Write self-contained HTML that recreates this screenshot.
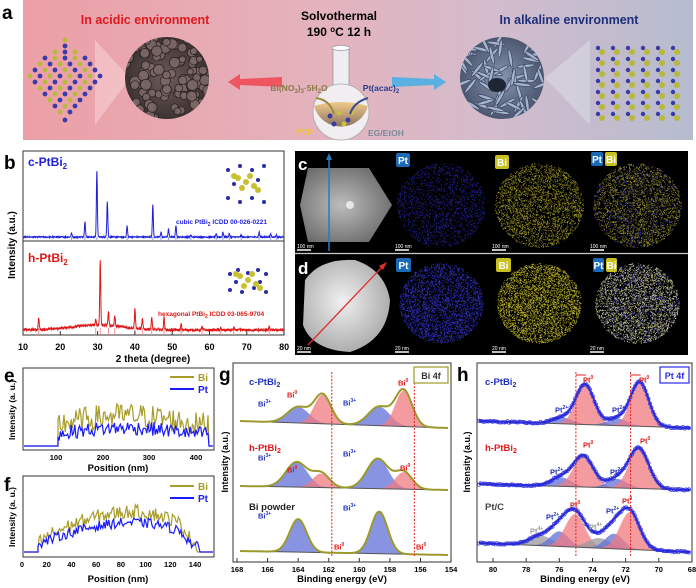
<!DOCTYPE html>
<html><head><meta charset="utf-8"><style>
html,body{margin:0;padding:0;background:#fff;}
svg{display:block;font-family:"Liberation Sans",Arial,sans-serif;}
.b{font-weight:bold;}
</style></head><body>
<svg id="s" width="696" height="588" viewBox="0 0 696 588" xmlns="http://www.w3.org/2000/svg">
<defs>
<linearGradient id="ga" x1="0" x2="1" y1="0" y2="0">
<stop offset="0" stop-color="#ec9fa6"/><stop offset="0.45" stop-color="#e4b3bd"/><stop offset="0.7" stop-color="#d3bccd"/><stop offset="1" stop-color="#b6bccf"/></linearGradient>
<radialGradient id="semL" cx="0.5" cy="0.5" r="0.5"><stop offset="0" stop-color="#6e5d5c"/><stop offset="1" stop-color="#3d3232"/></radialGradient>
<radialGradient id="semR" cx="0.5" cy="0.5" r="0.5"><stop offset="0" stop-color="#8594ad"/><stop offset="1" stop-color="#4d5870"/></radialGradient>
<radialGradient id="haadf" cx="0.45" cy="0.5" r="0.6"><stop offset="0" stop-color="#bdbdbd"/><stop offset="1" stop-color="#6a6a6a"/></radialGradient>
<radialGradient id="haadf2" cx="0.45" cy="0.45" r="0.6"><stop offset="0" stop-color="#f0f0f0"/><stop offset="1" stop-color="#a8a8a8"/></radialGradient>
<linearGradient id="liq" x1="0" x2="0" y1="0" y2="1"><stop offset="0" stop-color="#f2c98a"/><stop offset="1" stop-color="#8b7560"/></linearGradient>
<clipPath id="cL"><ellipse cx="167" cy="78" rx="42" ry="41"/></clipPath>
<clipPath id="cR"><ellipse cx="502" cy="78" rx="42" ry="41"/></clipPath>
</defs>
<rect x="23" y="0" width="670" height="140" fill="url(#ga)"/>
<polygon points="95,40 130,78 95,125" fill="#f6d0d3" opacity="0.6"/>
<polygon points="590,40 545,78 590,125" fill="#d8dbe6" opacity="0.6"/>
<text x="2" y="19" class="b" font-size="19">a</text>
<text x="145" y="24" class="b" font-size="12.5" fill="#e0191e" text-anchor="middle">In acidic environment</text>
<text x="569" y="24" class="b" font-size="12.5" fill="#1e2f7a" text-anchor="middle">In alkaline environment</text>
<text x="339" y="20" class="b" font-size="12" text-anchor="middle">Solvothermal</text>
<text x="339" y="36" class="b" font-size="12" text-anchor="middle">190 <tspan font-size="8" dy="-4">o</tspan><tspan dy="4">C 12 h</tspan></text>
<ellipse cx="167" cy="78" rx="42" ry="41" fill="url(#semL)"/>
<g id="grainsL" clip-path="url(#cL)"></g>
<ellipse cx="502" cy="78" rx="42" ry="41" fill="url(#semR)"/>
<g id="grainsR" clip-path="url(#cR)"></g>
<polygon points="228,82 240,74 240,79 282,77 282,87 240,85 240,90" fill="#ee5560"/>
<polygon points="446,82 434,74 434,79 392,77 392,87 434,85 434,90" fill="#5ab0e0"/>
<rect x="333" y="48" width="16" height="45" fill="#eeeef2" stroke="#999" stroke-width="0.8"/>
<ellipse cx="341" cy="48" rx="9" ry="2.5" fill="#fff" stroke="#999" stroke-width="0.8"/>
<circle cx="341" cy="112" r="28" fill="#f0eef0" stroke="#aaa" stroke-width="0.8"/>
<path d="M314,106 Q341,98 368,106 A28,28 0 0 1 314,106 Z" fill="url(#liq)"/>
<circle cx="330" cy="116" r="2.5" fill="#3a3aa0"/><circle cx="339" cy="113" r="2.5" fill="#c8c040"/><circle cx="348" cy="120" r="2.5" fill="#3a3aa0"/><circle cx="352" cy="112" r="2.5" fill="#c8c040"/><circle cx="344" cy="124" r="2.5" fill="#c8c040"/><circle cx="334" cy="124" r="2.5" fill="#3a3aa0"/>
<text x="299" y="91" class="b" font-size="8.5" fill="#8c7a4a" text-anchor="middle">Bi(NO<tspan font-size="6" dy="2">3</tspan><tspan dy="-2">)</tspan><tspan font-size="6" dy="2">3</tspan><tspan dy="-2">·5H</tspan><tspan font-size="6" dy="2">2</tspan><tspan dy="-2">O</tspan></text>
<text x="381" y="91" class="b" font-size="8.5" fill="#2a3a8a" text-anchor="middle">Pt(acac)<tspan font-size="6" dy="2">2</tspan></text>
<text x="296" y="135" class="b" font-size="8.5" fill="#f0c040">PVP</text>
<text x="368" y="136" class="b" font-size="8.5" fill="#7a8a9a">EG/EtOH</text>
<path d="M316,98 Q330,100 334,114" fill="none" stroke="#9a8a40" stroke-width="2"/>
<path d="M368,98 Q354,102 350,114" fill="none" stroke="#3a4a8a" stroke-width="2"/>
<g id="latL"></g><g id="latR"></g>

<text x="4" y="169" class="b" font-size="19">b</text>
<rect x="23" y="151" width="261" height="184" fill="none" stroke="#333" stroke-width="1"/>
<line x1="23" y1="241" x2="284" y2="241" stroke="#333" stroke-width="1"/>
<g id="xrd"></g>
<text x="28" y="166" class="b" font-size="12" fill="#2020e0">c-PtBi<tspan font-size="8" dy="3">2</tspan></text>
<text x="28" y="262" class="b" font-size="12" fill="#e01818">h-PtBi<tspan font-size="8" dy="3">2</tspan></text>
<text x="176" y="224" class="b" font-size="6.5" fill="#2020e0">cubic PtBi<tspan font-size="5" dy="2">2</tspan><tspan dy="-2"> ICDD 00-026-0221</tspan></text>
<text x="158" y="316" class="b" font-size="6.5" fill="#e01818">hexagonal PtBi<tspan font-size="5" dy="2">2</tspan><tspan dy="-2"> ICDD 03-065-9704</tspan></text>
<g id="crys"></g>
<g class="b" font-size="9" text-anchor="middle" id="bt"></g>
<text x="153" y="362" class="b" font-size="10" text-anchor="middle">2 theta (degree)</text>
<text transform="translate(15,245) rotate(-90)" class="b" font-size="10" text-anchor="middle">Intensity (a.u.)</text>

<rect x="295" y="151" width="393" height="204" fill="#000"/>
<line x1="295" y1="253.5" x2="688" y2="253.5" stroke="#ccc" stroke-width="1.2"/>
<polygon points="308,168 369,168 392,205 369,242 308,242 300,205" fill="url(#haadf)"/>
<circle cx="350" cy="205" r="4" fill="#fff" opacity="0.7"/>
<line x1="329" y1="251" x2="329" y2="158" stroke="#2a7ab8" stroke-width="1.5"/>
<polygon points="329,153 326,160 332,160" fill="#2a7ab8"/>
<path d="M305,280 Q320,258 355,260 Q385,270 390,300 Q388,340 350,352 Q312,350 303,325 Z" fill="url(#haadf2)"/>
<line x1="308" y1="345" x2="384" y2="265" stroke="#e03030" stroke-width="1.3"/>
<polygon points="387,262 379,266 383,270" fill="#e03030"/>
<g id="edx"></g>
<text x="298" y="170" class="b" font-size="17" fill="#fff">c</text>
<text x="298" y="274" class="b" font-size="17" fill="#fff">d</text>
<g id="tags"></g>
<g id="sbars"></g>

<text x="4" y="382" class="b" font-size="19">e</text>
<rect x="23" y="368" width="191" height="82" fill="none" stroke="#333" stroke-width="1"/>
<g id="eL"></g>
<text x="15" y="410" transform="rotate(-90 15 410)" class="b" font-size="8.5" text-anchor="middle">Intensity (a. u.)</text>
<g class="b" font-size="7.5" text-anchor="middle"><text x="56" y="460">100</text><text x="103" y="460">200</text><text x="149" y="460">300</text><text x="196" y="460">400</text></g>
<text x="118" y="471" class="b" font-size="9.5" text-anchor="middle">Position (nm)</text>
<line x1="170" y1="377" x2="194" y2="377" stroke="#a89c2a" stroke-width="2"/><text x="198" y="381" class="b" font-size="10" fill="#a89c2a">Bi</text>
<line x1="170" y1="389" x2="194" y2="389" stroke="#1a1aff" stroke-width="2"/><text x="198" y="393" class="b" font-size="10" fill="#1a1aff">Pt</text>

<text x="4" y="491" class="b" font-size="19">f</text>
<rect x="23" y="476" width="191" height="81" fill="none" stroke="#333" stroke-width="1"/>
<g id="fL"></g>
<text x="15" y="517" transform="rotate(-90 15 517)" class="b" font-size="8.5" text-anchor="middle">Intensity (a. u.)</text>
<g class="b" font-size="7.5" text-anchor="middle" id="ft"></g>
<text x="118" y="582" class="b" font-size="9.5" text-anchor="middle">Position (nm)</text>
<line x1="170" y1="486" x2="194" y2="486" stroke="#a89c2a" stroke-width="2"/><text x="198" y="490" class="b" font-size="10" fill="#a89c2a">Bi</text>
<line x1="170" y1="498" x2="194" y2="498" stroke="#1a1aff" stroke-width="2"/><text x="198" y="502" class="b" font-size="10" fill="#1a1aff">Pt</text>

<text x="219" y="381" class="b" font-size="19">g</text>
<rect x="233" y="363" width="218" height="199" fill="none" stroke="#333" stroke-width="1"/>
<g id="gP"></g>
<rect x="414" y="367" width="34" height="16" fill="#fff" stroke="#9c9a2a" stroke-width="1.2"/>
<text x="431" y="379" class="b" font-size="9" text-anchor="middle" fill="#333">Bi 4f</text>
<text x="249" y="385" class="b" font-size="9.5" fill="#2030c0">c-PtBi<tspan font-size="7" dy="2">2</tspan></text>
<text x="249" y="451" class="b" font-size="9.5" fill="#e01818">h-PtBi<tspan font-size="7" dy="2">2</tspan></text>
<text x="249" y="510" class="b" font-size="9.5" fill="#222">Bi powder</text>
<g id="gT" class="b" font-size="7.5"></g>
<text x="228" y="462" transform="rotate(-90 228 462)" class="b" font-size="9" text-anchor="middle">Intensity (a.u.)</text>
<text x="342" y="582" class="b" font-size="9.5" text-anchor="middle">Binding energy (eV)</text>

<text x="457" y="381" class="b" font-size="19">h</text>
<rect x="477" y="363" width="215" height="199" fill="none" stroke="#333" stroke-width="1"/>
<g id="hP"></g>
<rect x="660" y="367" width="29" height="16" fill="#fff" stroke="#2a2aee" stroke-width="1.2"/>
<text x="674.5" y="379" class="b" font-size="9" text-anchor="middle" fill="#2a2aee">Pt 4f</text>
<text x="485" y="385" class="b" font-size="9.5" fill="#2030c0">c-PtBi<tspan font-size="7" dy="2">2</tspan></text>
<text x="485" y="451" class="b" font-size="9.5" fill="#e01818">h-PtBi<tspan font-size="7" dy="2">2</tspan></text>
<text x="485" y="510" class="b" font-size="9.5" fill="#444">Pt/C</text>
<g id="hT" class="b" font-size="7.5"></g>
<text x="470" y="462" transform="rotate(-90 470 462)" class="b" font-size="9" text-anchor="middle">Intensity (a.u.)</text>
<text x="585" y="582" class="b" font-size="9.5" text-anchor="middle">Binding energy (eV)</text>
</svg>
<script>
var NS="http://www.w3.org/2000/svg";
var sd=12345;function R(){sd=(sd*1103515245+12345)%2147483648;return sd/2147483648;}
function el(g,t,a){var e=document.createElementNS(NS,t);for(var k in a)e.setAttribute(k,a[k]);document.getElementById(g).appendChild(e);return e;}
function P(p){return "M"+p.map(function(q){return q[0].toFixed(1)+","+q[1].toFixed(1)}).join("L");}
function G(x,c,s){return Math.exp(-(x-c)*(x-c)/(2*s*s));}
for(var i=0;i<110;i++){el("grainsL","circle",{cx:125+R()*84,cy:37+R()*82,r:3+R()*2.5,fill:"#7a6867",stroke:"#2a2020","stroke-width":0.8,opacity:0.9});}
for(var i=0;i<70;i++){var x=460+R()*84,y=37+R()*82,a=R()*180;el("grainsR","ellipse",{cx:x,cy:y,rx:9,ry:1.6,fill:"#a5b3cc",stroke:"#3a4560","stroke-width":0.6,transform:"rotate("+a+" "+x+" "+y+")"});}
el("grainsR","ellipse",{cx:497,cy:85,rx:9,ry:7,fill:"#1e2535"});
var rows=[[40,1],[46,1],[52,3],[58,5],[64,6],[70,7],[76,8],[82,7],[88,6],[94,5],[100,4],[106,3],[112,2],[120,1]];
rows.forEach(function(r,j){for(var k=0;k<r[1];k++){var x=65-(r[1]-1)*5+k*10;el("latL","circle",{cx:x,cy:r[0],r:2.4,fill:(k+j)%2?"#3a3aa8":"#b8b83a"});}});
for(var j=0;j<7;j++)for(var k=0;k<6;k++){var x=598+k*15,y=48+j*11;el("latR","circle",{cx:x,cy:y,r:2.2,fill:"#3a3aa8"});el("latR","circle",{cx:x+4,cy:y+4,r:3,fill:"#b8b83a"});}
function xrd(base,peaks,noise,hump,col){var pts=[];for(var x=23.5;x<283.5;x+=0.25){var th=10+(x-23)/3.73;var y=base-(R()-0.5)*noise;if(hump)y-=hump*G(th,30,7);peaks.forEach(function(p){y-=p[1]*G(th,p[0],0.13);});pts.push([x,y]);}el("xrd","path",{d:P(pts),fill:"none",stroke:col,"stroke-width":1});}
var bp=[[23,4],[26.6,16],[29.8,67],[32.6,36],[37.9,11],[44.8,32],[47,5],[49,8],[51,12],[55,2],[61.8,3],[63.6,5],[65.3,3],[68.5,2],[73.3,5],[76.4,3],[77.9,2]];
var rp=[[14.2,12],[29.5,5],[30.7,65],[32.9,14],[34.6,11],[40,20],[42,10],[44.5,12],[47.8,13],[52.4,6],[58,3],[63,2],[66.5,2],[76,3]];
bp.forEach(function(p){var x=23+(p[0]-10)*3.73;el("xrd","line",{x1:x,x2:x,y1:237,y2:241,stroke:"#8aa0f0","stroke-width":1});});
rp.forEach(function(p){var x=23+(p[0]-10)*3.73;el("xrd","line",{x1:x,x2:x,y1:328,y2:335,stroke:"#f09090","stroke-width":1});});
xrd(237,bp,1.2,0,"#2020e0");xrd(330,rp,2.5,5,"#e01818");
for(var t=10;t<=80;t+=10){var x=23+(t-10)*3.73;el("xrd","line",{x1:x,x2:x,y1:335,y2:331,stroke:"#333"});var e=el("bt","text",{x:x,y:350});e.textContent=t;}
function crys(cx,cy,hex){var s=hex?[[-18,-8],[-10,-12],[0,-9],[10,-12],[18,-8],[-18,8],[-6,10],[6,6],[18,10],[-12,0],[12,0]]:[[-18,-14],[-6,-18],[6,-14],[18,-18],[-18,14],[-6,18],[6,14],[18,18],[-12,0],[12,-4]];s.forEach(function(p){el("crys","circle",{cx:cx+p[0],cy:cy+p[1],r:2,fill:"#2a2aa8"});});[[-8,-6],[4,-8],[-4,4],[8,2],[0,-2],[12,6],[-12,-8]].forEach(function(p){el("crys","circle",{cx:cx+p[0],cy:cy+p[1],r:3,fill:"#c8c030"});});}
crys(246,184,0);crys(248,282,1);
function dots(cx,cy,r,n,cols){for(var i=0;i<n;i++){var a=R()*6.283,d=Math.sqrt(R())*r;var x=cx+Math.cos(a)*d*1.05,y=cy+Math.sin(a)*d;el("edx","rect",{x:x.toFixed(1),y:y.toFixed(1),width:0.9,height:0.9,fill:cols[Math.floor(R()*cols.length)]});}}
dots(441,205,42,1800,["#1e1e8a","#14146a","#2a2aa8"]);dots(539,205,42,2600,["#8a8418","#6a6410","#b0a828"]);dots(637,205,42,2800,["#8a8418","#2a2a98","#a8a030","#6a6420"]);
dots(441,303,40,3000,["#2a2ab0","#1c1c88","#3838c8"]);dots(539,303,40,3400,["#a8a018","#807a10","#c8c030"]);dots(637,303,40,3400,["#b8b890","#8a8a40","#3a3aa8","#d0d0b0"]);
function tag(x,y,t,c,w){el("tags","rect",{x:x,y:y,width:w,height:14,rx:2,fill:c});var e=el("tags","text",{x:x+w/2,y:y+11,"text-anchor":"middle","font-size":10,"font-weight":"bold",fill:"#fff"});e.textContent=t;}
tag(396,153,"Pt","#1a6ab8",14);tag(495,155,"Bi","#c8c020",14);tag(591,152,"Pt","#1a6ab8",12);tag(605,152,"Bi","#c8c020",12);
tag(396,258,"Pt","#1a6ab8",15);tag(496,258,"Bi","#c8c020",15);tag(593,258,"Pt","#1a6ab8",11);tag(606,258,"Bi","#c8c020",11);
[[297,250,"100 nm"],[395,250,"100 nm"],[492,250,"100 nm"],[590,250,"100 nm"],[297,352,"20 nm"],[395,352,"20 nm"],[492,352,"20 nm"],[590,352,"20 nm"]].forEach(function(s){el("sbars","line",{x1:s[0],x2:s[0]+14,y1:s[1],y2:s[1],stroke:"#fff","stroke-width":1.5});var e=el("sbars","text",{x:s[0],y:s[1]-2,"font-size":5,fill:"#fff"});e.textContent=s[2];});
function prof(g,xa,xb,base,amp,noise,col){var pts=[[24,base],[xa,base]];for(var x=xa;x<=xb;x+=1.2){var u=(x-xa)/(xb-xa);var env=Math.sin(Math.PI*Math.min(1,u*1.1))*0.5+0.5;pts.push([x,base-amp*env-(R())*noise]);}pts.push([xb+1,base]);pts.push([213,base]);el(g,"path",{d:P(pts),fill:"none",stroke:col,"stroke-width":1.2});}
prof("eL",58,208,446,18,25,"#a89c2a");prof("eL",58,208,446,11,14,"#1a1aff");
function prof2(g,base,amp,noise,col){var pts=[[24,base],[38,base]];for(var x=38;x<=198;x+=1.2){var u=(x-38)/160;var env=Math.pow(Math.sin(Math.PI*u),0.6)*(0.6+0.5*u);if(u>0.9)env*=(1-u)*10;pts.push([x,base-amp*env-R()*noise]);}pts.push([200,base]);pts.push([213,base]);el(g,"path",{d:P(pts),fill:"none",stroke:col,"stroke-width":1.2});}
prof2("fL",552,38,14,"#a89c2a");prof2("fL",552,28,10,"#1a1aff");
for(var t=0;t<=140;t+=20){var x=22+t*1.236;var e=el("ft","text",{x:x,y:567});e.textContent=t;}
function xps(g,X,stk){var bgL=stk.bg[0],bgR=stk.bg[1];function bg(x){return bgL+(bgR-bgL)*(x-stk.x0)/(stk.x1-stk.x0);}
var env=[];var comps=stk.c.map(function(){return []});
for(var x=stk.x0;x<=stk.x1;x+=0.5){var ev=X(x);var y=bg(x);var s=0;stk.c.forEach(function(c,i){var v=c[1]*G(ev,c[0],c[3]||stk.w);comps[i].push([x,bg(x)-v]);s+=v;});env.push([x,y-s]);}
stk.c.forEach(function(c,i){var p=comps[i];var d=P(p)+"L"+p[p.length-1][0]+","+bg(stk.x1)+"L"+p[0][0]+","+bg(stk.x0)+"Z";el(g,"path",{d:d,fill:c[2],opacity:0.75});});
el(g,"line",{x1:stk.x0,y1:bgL,x2:stk.x1,y2:bgR,stroke:"#555","stroke-width":1});
if(stk.dots){for(var i=0;i<env.length;i+=3){el(g,"circle",{cx:env[i][0],cy:env[i][1]-(R()-0.5)*1.5,r:1.6,fill:"none",stroke:stk.dots,"stroke-width":0.7});}}
el(g,"path",{d:P(env),fill:"none",stroke:stk.col,"stroke-width":2});}
var Xg=function(x){return 168-(x-237)/15.29;},Xh=function(x){return 80-(x-493)/16.58;};
var blue="#6070d8",red="#f07a80",gray="#9a9a9a";
xps("gP",Xg,{x0:240,x1:448,bg:[421,428],w:0.55,col:"#9c9a2a",c:[[164.0,16,blue,0.7],[162.4,29,red],[158.7,19,blue,0.7],[157.1,36,red]]});
xps("gP",Xg,{x0:240,x1:448,bg:[486,490],w:0.55,col:"#9c9a2a",c:[[164.1,25,blue,0.7],[162.5,14,red],[158.8,30,blue,0.7],[157.1,17,red]]});
xps("gP",Xg,{x0:240,x1:448,bg:[551,555],w:0.55,col:"#9c9a2a",c:[[164.0,33,blue,0.55],[158.7,42,blue,0.55]]});
[[161.8],[156.4]].forEach(function(v){var x=237+(168-v[0])*15.29;el("gP","line",{x1:x,x2:x,y1:372,y2:556,stroke:"#e02020","stroke-width":1,"stroke-dasharray":"2,1.5"});});
for(var t=168;t>=154;t-=2){var x=237+(168-t)*15.29;el("gP","line",{x1:x,x2:x,y1:562,y2:558,stroke:"#333"});var e=el("gT","text",{x:x,y:572,"text-anchor":"middle"});e.textContent=t;}
xps("hP",Xh,{x0:479,x1:690,bg:[421,428],w:0.55,col:"#2a2ad8",dots:"#3a3ae0",c:[[75.8,6,blue,0.6],[74.45,40,red],[72.5,7,blue,0.6],[71.15,44,red]]});
xps("hP",Xh,{x0:479,x1:690,bg:[484,490],w:0.6,col:"#2a2ad8",dots:"#3a3ae0",c:[[75.9,9,blue,0.6],[74.55,31,red],[72.5,9,blue,0.6],[71.2,40,red]]});
xps("hP",Xh,{x0:479,x1:690,bg:[543,552],w:0.6,col:"#2a2ad8",dots:"#3a3ae0",c:[[77.1,10,gray,0.7],[76.0,15,blue,0.55],[75.05,33,red],[73.6,10,gray,0.7],[72.7,15,blue,0.55],[71.75,37,red]]});
[75.0,71.7].forEach(function(v){var x=493+(80-v)*16.58;el("hP","line",{x1:x,x2:x,y1:372,y2:556,stroke:"#e02020","stroke-width":1,"stroke-dasharray":"2,1.5"});el("hP","line",{x1:x,x2:x+10,y1:375,y2:375,stroke:"#e02020","stroke-width":1});});
for(var t=80;t>=68;t-=2){var x=493+(80-t)*16.58;el("hP","line",{x1:x,x2:x,y1:562,y2:558,stroke:"#333"});var e=el("hT","text",{x:x,y:572,"text-anchor":"middle"});e.textContent=t;}
</script>
<div style="position:absolute;left:0;top:0;width:696px;height:588px;pointer-events:none;font-family:'Liberation Sans',sans-serif;font-weight:bold;font-size:7.5px;">
<span style="position:absolute;left:258px;top:399px;color:#2030c0">Bi<sup style="font-size:5px">3+</sup></span>
<span style="position:absolute;left:287px;top:390px;color:#e01818">Bi<sup style="font-size:5px">0</sup></span>
<span style="position:absolute;left:343px;top:398px;color:#2030c0">Bi<sup style="font-size:5px">3+</sup></span>
<span style="position:absolute;left:398px;top:378px;color:#e01818">Bi<sup style="font-size:5px">0</sup></span>
<span style="position:absolute;left:258px;top:453px;color:#2030c0">Bi<sup style="font-size:5px">3+</sup></span>
<span style="position:absolute;left:287px;top:465px;color:#e01818">Bi<sup style="font-size:5px">0</sup></span>
<span style="position:absolute;left:343px;top:449px;color:#2030c0">Bi<sup style="font-size:5px">3+</sup></span>
<span style="position:absolute;left:400px;top:463px;color:#e01818">Bi<sup style="font-size:5px">0</sup></span>
<span style="position:absolute;left:258px;top:511px;color:#2030c0">Bi<sup style="font-size:5px">3+</sup></span>
<span style="position:absolute;left:343px;top:503px;color:#2030c0">Bi<sup style="font-size:5px">3+</sup></span>
<span style="position:absolute;left:334px;top:542px;color:#e01818">Bi<sup style="font-size:5px">0</sup></span>
<span style="position:absolute;left:416px;top:542px;color:#e01818">Bi<sup style="font-size:5px">0</sup></span>
<span style="position:absolute;left:555px;top:405px;color:#2030c0">Pt<sup style="font-size:5px">2+</sup></span>
<span style="position:absolute;left:583px;top:375px;color:#e01818">Pt<sup style="font-size:5px">0</sup></span>
<span style="position:absolute;left:612px;top:405px;color:#2030c0">Pt<sup style="font-size:5px">2+</sup></span>
<span style="position:absolute;left:639px;top:375px;color:#e01818">Pt<sup style="font-size:5px">0</sup></span>
<span style="position:absolute;left:550px;top:467px;color:#2030c0">Pt<sup style="font-size:5px">2+</sup></span>
<span style="position:absolute;left:583px;top:440px;color:#e01818">Pt<sup style="font-size:5px">0</sup></span>
<span style="position:absolute;left:610px;top:467px;color:#2030c0">Pt<sup style="font-size:5px">2+</sup></span>
<span style="position:absolute;left:640px;top:436px;color:#e01818">Pt<sup style="font-size:5px">0</sup></span>
<span style="position:absolute;left:530px;top:526px;color:#999">Pt<sup style="font-size:5px">4+</sup></span>
<span style="position:absolute;left:546px;top:512px;color:#2030c0">Pt<sup style="font-size:5px">2+</sup></span>
<span style="position:absolute;left:570px;top:500px;color:#e01818">Pt<sup style="font-size:5px">0</sup></span>
<span style="position:absolute;left:589px;top:522px;color:#999">Pt<sup style="font-size:5px">4+</sup></span>
<span style="position:absolute;left:606px;top:506px;color:#2030c0">Pt<sup style="font-size:5px">2+</sup></span>
<span style="position:absolute;left:622px;top:496px;color:#e01818">Pt<sup style="font-size:5px">0</sup></span>
</div>
</body></html>
